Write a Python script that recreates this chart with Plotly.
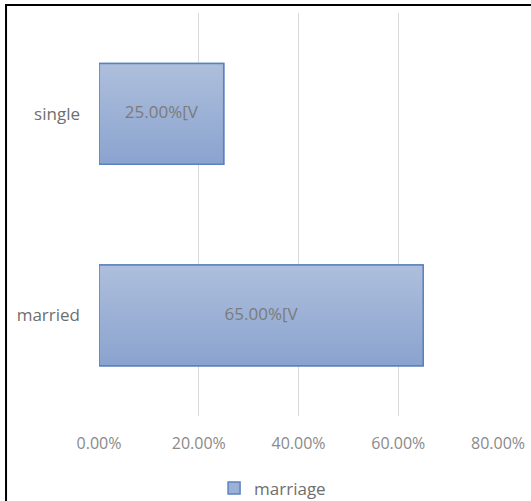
import plotly.graph_objects as go

# Marriage status shares
categories = ["married", "single"]
shares = [0.65, 0.25]
series_name = "marriage"
x_tick_values = [0, 0.2, 0.4, 0.6, 0.8]
x_tick_labels = ["0.00%", "20.00%", "40.00%", "60.00%", "80.00%"]

FONT = "Open Sans"
BAR_HALF = 0.25
TOP_COLOR = "#aebfdc"
BOTTOM_COLOR = "#8aa3cf"
MID_COLOR = "#9cb1d6"
EDGE_COLOR = "#5b82c0"

fig = go.Figure()

# Base bars (also provide the square legend key)
fig.add_trace(go.Bar(
    x=shares,
    y=list(range(len(categories))),
    orientation="h",
    width=2 * BAR_HALF,
    marker=dict(color=MID_COLOR, line=dict(color=EDGE_COLOR, width=1.5)),
    name=series_name,
    hoverinfo="skip",
))

# Gradient face drawn over each bar
for i, val in enumerate(shares):
    fig.add_trace(go.Scatter(
        x=[0, val, val, 0, 0],
        y=[i - BAR_HALF, i - BAR_HALF, i + BAR_HALF, i + BAR_HALF, i - BAR_HALF],
        mode="lines",
        fill="toself",
        fillgradient=dict(type="vertical",
                          colorscale=[[0, BOTTOM_COLOR], [1, TOP_COLOR]]),
        line=dict(color=EDGE_COLOR, width=1.5),
        showlegend=False,
        hoverinfo="skip",
    ))

# Value labels in the middle of each bar
fig.add_trace(go.Scatter(
    x=[v / 2 for v in shares],
    y=list(range(len(categories))),
    mode="text",
    text=[f"{v * 100:.2f}%[V" for v in shares],
    textposition="middle center",
    textfont=dict(family=FONT, size=17, color="#7b7b7b"),
    showlegend=False,
    hoverinfo="skip",
))

fig.update_layout(
    width=531,
    height=501,
    margin=dict(l=99, r=33, t=13, b=85, autoexpand=False),
    paper_bgcolor="white",
    plot_bgcolor="white",
    font=dict(family=FONT),
    xaxis=dict(
        range=[0, 0.8],
        tickvals=x_tick_values,
        ticktext=x_tick_labels,
        showgrid=True,
        gridcolor="#d9d9d9",
        gridwidth=1.3,
        zeroline=False,
        showline=False,
        automargin=False,
        ticklabelstandoff=16,
        tickfont=dict(family=FONT, size=16, color="#8a8a8a"),
        fixedrange=True,
    ),
    yaxis=dict(
        range=[-0.5, 1.5],
        tickvals=list(range(len(categories))),
        ticktext=categories,
        showgrid=False,
        zeroline=False,
        showline=False,
        automargin=False,
        ticklabelstandoff=18,
        tickfont=dict(family=FONT, size=17, color="#6e6e6e"),
        fixedrange=True,
    ),
    legend=dict(
        orientation="h",
        x=0.435,
        xanchor="center",
        y=-0.18,
        yanchor="middle",
        font=dict(family=FONT, size=17, color="#6e6e6e"),
        itemwidth=30,
    ),
    shapes=[
        dict(type="rect", xref="paper", yref="paper",
             x0=-0.233, x1=1.3, y0=-0.4, y1=1.02,
             line=dict(color="black", width=2), fillcolor="rgba(0,0,0,0)",
             layer="above"),
    ],
)

fig.write_html("out.html")
